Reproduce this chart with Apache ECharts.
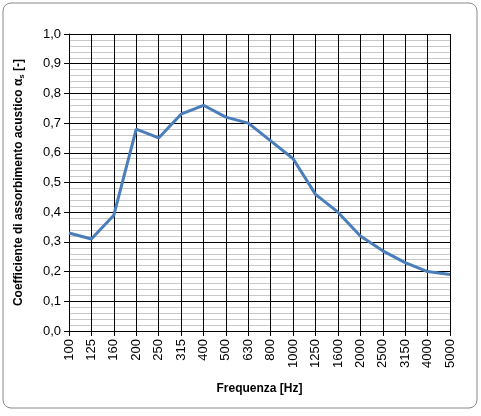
<!DOCTYPE html>
<html><head><meta charset="utf-8">
<script src="https://cdn.jsdelivr.net/npm/echarts@6/dist/echarts.min.js"></script>
<style>html,body{margin:0;padding:0;background:#fff}#c{width:481px;height:416px}</style>
</head><body><div id="c"></div>
<script>
const categories = ['100','125','160','200','250','315','400','500','630','800','1000','1250','1600','2000','2500','3150','4000','5000'];
const values = [0.33,0.31,0.39,0.68,0.65,0.73,0.76,0.72,0.70,0.64,0.58,0.46,0.40,0.32,0.27,0.23,0.20,0.19];
const chart = echarts.init(document.getElementById('c'));
const F = 'Liberation Sans, Arial, sans-serif';
chart.setOption({
  animation:false,
  graphic:[{type:'rect',shape:{x:3,y:3,width:474,height:405,r:8},style:{fill:'none',stroke:'#888',lineWidth:1}}],
  grid:{left:69,right:31,top:34,bottom:85},
  xAxis:{type:'category',data:categories,boundaryGap:false,
    name:'Frequenza [Hz]',nameLocation:'middle',nameGap:52,
    nameTextStyle:{fontFamily:F,fontWeight:'bold',fontSize:12,color:'#000'},
    axisLine:{lineStyle:{color:'#000'}},axisTick:{show:true,length:5,lineStyle:{color:'#000'}},
    axisLabel:{rotate:90,fontFamily:F,fontSize:13,color:'#000',margin:8},
    splitLine:{show:true,lineStyle:{color:'#000',width:1}}},
  yAxis:{type:'value',min:0,max:1,interval:0.1,
    name:'{a|Coefficiente di assorbimento acustico α}{s|s}{a| [-]}',nameLocation:'middle',nameGap:43,
    nameTextStyle:{rich:{a:{fontFamily:F,fontWeight:'bold',fontSize:12,color:'#000'},s:{fontFamily:F,fontWeight:'bold',fontSize:8,color:'#000',verticalAlign:'bottom',padding:[6,0,0,0]}}},
    axisLine:{show:true,lineStyle:{color:'#000'}},axisTick:{show:true,length:5,lineStyle:{color:'#000'}},
    axisLabel:{fontFamily:F,fontSize:13,color:'#000',formatter:v=>v.toFixed(1).replace('.',',')},
    splitLine:{lineStyle:{color:'#000',width:1}},
    minorTick:{show:false,splitNumber:5},
    minorSplitLine:{show:true,lineStyle:{color:'#c8c8c8',width:1}}},
  series:[{type:'line',data:values,symbol:'none',lineStyle:{color:'#4a7ebb',width:3}}]
});
</script></body></html>
